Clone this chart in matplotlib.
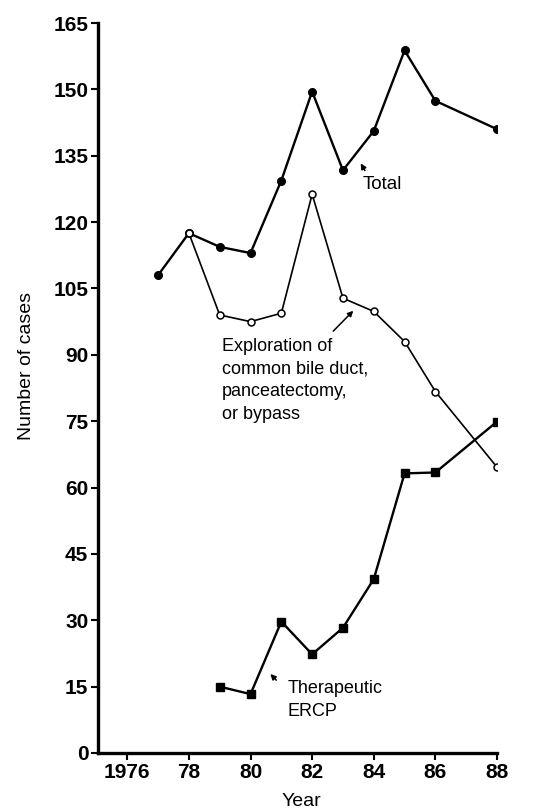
import matplotlib
matplotlib.use("Agg")
import matplotlib.pyplot as plt

# data
total_years = [1977, 1978, 1979, 1980, 1981, 1982, 1983, 1984, 1985, 1986, 1988]
total_cases = [108.0, 117.5, 114.4, 113.0, 129.4, 149.5, 131.7, 140.6, 158.8, 147.4, 141.0]

explor_years = [1978, 1979, 1980, 1981, 1982, 1983, 1984, 1985, 1986, 1988]
explor_cases = [117.5, 99.0, 97.5, 99.4, 126.3, 102.8, 99.8, 93.0, 81.7, 64.6]

ercp_years = [1979, 1980, 1981, 1982, 1983, 1984, 1985, 1986, 1988]
ercp_cases = [15.0, 13.3, 29.7, 22.3, 28.3, 39.3, 63.2, 63.4, 74.9]

xticks = [1976, 1978, 1980, 1982, 1984, 1986, 1988]
xtick_labels = ["1976", "78", "80", "82", "84", "86", "88"]
yticks = list(range(0, 166, 15))

plt.rcParams['font.family'] = ['Liberation Sans', 'DejaVu Sans']

fig = plt.figure(figsize=(5.49, 8.10), dpi=100)
ax = fig.add_axes([0.1785, 0.0704, 0.7268, 0.9012])

ax.plot(total_years, total_cases, color='black', lw=1.7, marker='o', ms=5.5,
        mfc='black', mec='black', zorder=3)
ax.plot(explor_years, explor_cases, color='black', lw=1.2, marker='o', ms=5,
        mfc='white', mec='black', mew=1.1, zorder=3)
ax.plot(ercp_years, ercp_cases, color='black', lw=1.7, marker='s', ms=5.5,
        mfc='black', mec='black', zorder=3)

ax.set_xlim(1975.05, 1988)
ax.set_ylim(0, 165)
ax.set_xticks(xticks)
ax.set_xticklabels(xtick_labels, fontweight='bold', fontsize=15)
ax.set_yticks(yticks)
ax.set_yticklabels([str(v) for v in yticks], fontweight='bold', fontsize=15)

for s in ['top', 'right']:
    ax.spines[s].set_visible(False)
for s in ['left', 'bottom']:
    ax.spines[s].set_linewidth(2.4)

ax.tick_params(axis='both', direction='out', length=5, width=1.5, pad=2)

ax.set_ylabel("Number of cases", fontsize=14, va='center')
ax.yaxis.set_label_coords(-0.178, 0.53)
ax.set_xlabel("Year", fontsize=14, va='center')
ax.xaxis.set_label_coords(0.51, -0.066)

arrow = dict(arrowstyle='-|>', color='black', lw=1.1, mutation_scale=8)

ax.text(1983.63, 128.4, "Total", fontsize=13.5, ha='left', va='center')
ax.annotate("", xy=(1983.53, 133.8), xytext=(1983.76, 131.1), arrowprops=arrow)

ax.text(1979.08, 84.2, "Exploration of\ncommon bile duct,\npanceatectomy,\nor bypass",
        fontsize=13, ha='left', va='center', linespacing=1.45)
ax.annotate("", xy=(1983.40, 100.4), xytext=(1982.62, 94.9), arrowprops=arrow)

ax.text(1981.19, 12.0, "Therapeutic\nERCP", fontsize=13, ha='left', va='center',
        linespacing=1.45)
ax.annotate("", xy=(1980.58, 18.3), xytext=(1980.90, 16.0), arrowprops=arrow)

fig.savefig("out.png", dpi=100)
